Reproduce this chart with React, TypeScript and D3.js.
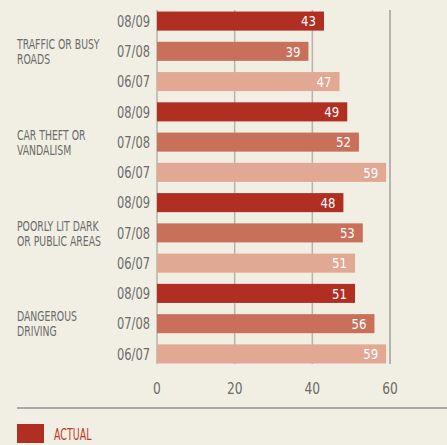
import React from 'react';
import * as d3 from 'd3';

const categories = [
  ['TRAFFIC OR BUSY', 'ROADS'],
  ['CAR THEFT OR', 'VANDALISM'],
  ['POORLY LIT DARK', 'OR PUBLIC AREAS'],
  ['DANGEROUS', 'DRIVING'],
];
const years = ['08/09', '07/08', '06/07'];
const values = [
  [43, 39, 47],
  [49, 52, 59],
  [48, 53, 51],
  [51, 56, 59],
];
const xTicks = [0, 20, 40, 60];
const yearColors = ['#b02e22', '#c9705b', '#e1a893'];

const W = 447;
const H = 445;
const FONT = '"DejaVu Sans Condensed", "DejaVu Sans", sans-serif';

// condensed text: squeeze horizontally around the anchor point
function CText({ x, y, sx = 0.85, anchor = 'start', children, ...rest }: any) {
  return (
    <g transform={`translate(${x},${y}) scale(${sx},1)`}>
      <text x={0} y={0} textAnchor={anchor} {...rest}>
        {children}
      </text>
    </g>
  );
}

export default function App() {
  const rows = categories.flatMap((c, ci) =>
    years.map((y, yi) => ({ key: `${ci}-${yi}`, ci, yi, year: y, value: values[ci][yi] }))
  );

  const x = d3.scaleLinear().domain([0, 60]).range([157, 390]);
  const y = d3
    .scaleBand()
    .domain(rows.map(r => r.key))
    .range([5.5, 369.5])
    .paddingInner(0.37)
    .paddingOuter(0.2);
  const bw = y.bandwidth();

  return (
    <svg
      width={W}
      height={H}
      style={{ position: 'absolute', left: 0, top: 0, background: '#f1efe3' }}
      fontFamily={FONT}
    >
      <rect width={W} height={H} fill="#f1efe3" />
      {xTicks.slice(0, 3).map(t => (
        <line key={t} x1={x(t)} x2={x(t)} y1={10} y2={364} stroke="#b5b3ab" strokeWidth={1.5} />
      ))}
      <line x1={x(60)} x2={x(60)} y1={10} y2={364} stroke="#b5b3ab" strokeWidth={2} />
      {rows.map(r => {
        const y0 = y(r.key)!;
        const cy = y0 + bw / 2;
        return (
          <g key={r.key}>
            <rect x={x(0)} y={y0} width={x(r.value) - x(0)} height={bw} fill={yearColors[r.yi]} />
            <CText x={x(r.value) - 8} y={cy + 5.2} anchor="end" fill="#fff" fontSize={14.5} sx={0.9}>
              {r.value}
            </CText>
            <CText x={150} y={cy + 5.7} anchor="end" fill="#6b6b6b" fontSize={15.5} sx={0.82}>
              {r.year}
            </CText>
          </g>
        );
      })}
      {categories.map((c, ci) => {
        const mid = y(`${ci}-1`)! + bw / 2;
        return (
          <g key={ci}>
            <CText x={17} y={mid - 2.3} fill="#6b6b6b" fontSize={14} sx={0.74}>
              {c[0]}
            </CText>
            <CText x={17} y={mid + 12.8} fill="#6b6b6b" fontSize={14} sx={0.74}>
              {c[1]}
            </CText>
          </g>
        );
      })}
      {xTicks.map(t => (
        <CText key={t} x={x(t)} y={394} anchor="middle" fill="#6b6b6b" fontSize={16} sx={0.85}>
          {t}
        </CText>
      ))}
      <line x1={17} x2={W} y1={408} y2={408} stroke="#a8a8a4" strokeWidth={2} />
      <rect x={17} y={424} width={27} height={19} fill={yearColors[0]} />
      <CText x={54} y={440} fill="#c0392b" fontSize={15.5} sx={0.68}>ACTUAL</CText>
    </svg>
  );
}
